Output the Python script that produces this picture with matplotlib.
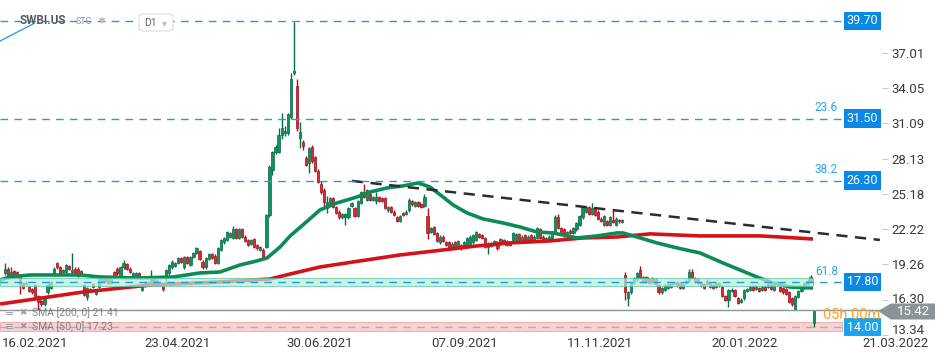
import numpy as np
import matplotlib
matplotlib.use('Agg')
import matplotlib.pyplot as plt
from matplotlib.patches import Polygon, FancyBboxPatch
from matplotlib.transforms import blended_transform_factory, ScaledTranslation

plt.rcParams['font.family'] = ['Roboto', 'DejaVu Sans']

# daily candles (bar index 0..266)
opens = [
    18.5, 18.9, 18.4, 18.7, 18.6, 18.2, 17.7, 17.6, 17.4, 17.2,
    17.5, 16.6, 16.2, 15.9, 16.9, 17.3, 18.4, 19.4, 19.0, 18.6,
    18.6, 19.1, 18.6, 18.9, 18.9, 18.7, 17.5, 16.5, 17.2, 17.6,
    16.8, 17.4, 17.8, 18.1, 18.0, 17.7, 18.6, 18.9, 18.2, 19.0,
    19.3, 18.9, 18.2, 18.3, 18.5, 17.1, 17.5, 17.8, 17.7, 18.1,
    17.9, 17.6, 17.5, 18.1, 18.5, 19.0, 19.1, 19.4, 19.8, 19.0,
    19.9, 19.2, 19.9, 20.2, 20.4, 19.5, 19.0, 19.7, 20.1, 20.0,
    19.4, 20.5, 21.1, 21.3, 21.6, 21.5, 22.2, 21.5, 22.2, 21.6,
    21.3, 21.0, 21.4, 20.9, 20.5, 20.5, 20.7, 23.4, 27.2, 28.7,
    28.7, 30.1, 30.3, 30.3, 31.6, 35.3, 34.2, 29.9, 29.5, 28.2,
    27.8, 29.1, 28.3, 27.1, 26.0, 25.5, 24.0, 24.4, 24.8, 24.1,
    23.7, 23.2, 23.2, 23.2, 24.2, 24.0, 23.3, 24.4, 25.3, 24.7,
    25.2, 24.7, 24.6, 24.9, 24.8, 24.8, 23.8, 24.1, 23.7, 23.2,
    22.9, 23.6, 23.5, 23.8, 24.6, 24.2, 24.5, 24.3, 24.2, 23.3,
    22.0, 22.4, 21.9, 21.1, 21.6, 21.1, 21.1, 20.7, 21.1, 20.7,
    20.9, 20.7, 20.9, 21.0, 21.1, 21.3, 21.8, 21.7, 21.5, 20.7,
    21.0, 20.9, 21.1, 21.0, 21.3, 20.9, 21.1, 21.3, 21.3, 21.8,
    21.3, 21.7, 21.3, 21.7, 21.3, 21.5, 22.2, 21.6, 21.3, 21.3,
    21.5, 22.0, 23.2, 22.3, 22.2, 21.7, 22.1, 21.9, 22.2, 22.6,
    23.2, 23.7, 24.1, 23.5, 24.0, 23.7, 23.1, 22.6, 22.9, 22.6,
    23.0, 22.6, 23.0, 22.8, 18.4, 16.4, 16.9, 17.7, 18.0, 18.8,
    17.8, 18.2, 18.0, 17.8, 18.0, 17.5, 16.9, 17.1, 17.3, 17.4,
    17.6, 17.8, 17.7, 17.3, 17.7, 17.9, 18.6, 18.1, 18.0, 17.7,
    17.6, 17.9, 17.4, 17.5, 17.4, 17.5, 17.4, 16.6, 16.3, 17.0,
    17.1, 16.4, 16.1, 16.4, 17.0, 17.1, 17.4, 17.2, 17.3, 17.1,
    17.4, 17.4, 17.5, 17.1, 17.6, 17.4, 17.3, 17.2, 16.9, 16.4,
    15.5, 16.5, 17.0, 17.3, 17.6, 18.2, 14.3]
closes = [
    18.9, 18.1, 18.6, 18.3, 18.4, 17.6, 17.3, 17.7, 17.0, 16.9,
    16.5, 16.1, 15.9, 16.5, 17.5, 17.8, 18.9, 19.0, 18.5, 18.8,
    19.2, 18.9, 18.8, 18.4, 18.3, 18.4, 16.7, 17.3, 17.0, 17.4,
    17.1, 18.0, 18.2, 17.9, 17.7, 18.0, 18.2, 18.5, 19.0, 19.4,
    18.9, 18.6, 18.5, 18.5, 18.2, 17.5, 17.8, 17.7, 18.1, 17.9,
    17.6, 17.7, 17.2, 18.8, 19.2, 19.5, 19.4, 19.8, 19.5, 19.9,
    19.4, 19.9, 20.2, 20.6, 19.7, 19.0, 19.8, 20.1, 19.8, 19.4,
    20.6, 21.3, 21.5, 22.0, 21.9, 22.2, 21.5, 22.2, 21.6, 21.2,
    20.9, 21.3, 20.7, 20.6, 20.7, 19.9, 23.4, 27.4, 28.7, 29.1,
    30.1, 30.7, 30.5, 31.9, 34.8, 35.5, 30.7, 30.4, 29.2, 27.6,
    29.0, 27.9, 27.1, 26.2, 25.3, 24.5, 24.5, 24.8, 24.1, 23.6,
    23.2, 23.5, 23.5, 24.0, 24.4, 23.3, 24.6, 25.3, 24.9, 25.5,
    24.7, 24.9, 24.9, 24.6, 24.6, 24.0, 24.1, 23.7, 23.4, 22.9,
    23.3, 23.4, 23.7, 24.7, 24.3, 24.5, 24.2, 24.1, 24.9, 21.9,
    22.3, 21.8, 21.2, 21.6, 21.2, 20.9, 20.7, 21.0, 20.7, 21.2,
    20.6, 21.1, 21.5, 21.6, 21.7, 22.0, 21.6, 21.5, 20.7, 21.0,
    20.8, 21.2, 20.6, 21.4, 21.1, 21.2, 20.9, 21.9, 21.8, 21.3,
    21.6, 21.3, 21.6, 21.3, 21.6, 22.3, 21.5, 21.3, 21.5, 21.6,
    22.0, 23.2, 22.3, 21.8, 21.7, 22.0, 21.9, 22.3, 22.7, 23.3,
    24.1, 24.1, 23.5, 24.0, 23.4, 23.1, 22.9, 23.3, 22.6, 23.2,
    22.8, 23.1, 22.9, 23.0, 16.9, 16.9, 17.7, 18.1, 18.5, 18.1,
    18.2, 17.8, 17.7, 18.1, 17.6, 16.9, 17.3, 17.5, 17.6, 17.8,
    17.8, 17.5, 17.3, 17.6, 17.9, 18.6, 18.1, 17.8, 17.7, 17.5,
    17.3, 17.6, 17.7, 17.3, 17.7, 17.7, 16.6, 16.3, 17.1, 17.1,
    16.6, 16.0, 16.3, 17.1, 17.2, 17.4, 17.1, 17.4, 17.0, 17.4,
    17.1, 17.6, 17.2, 17.6, 17.7, 17.0, 16.9, 16.8, 16.1, 15.9,
    16.6, 17.0, 17.3, 17.7, 17.9, 17.9, 15.42]
highs = [
    19.4, 19.0, 19.0, 18.8, 18.7, 18.4, 17.8, 17.9, 17.5, 17.3,
    17.6, 16.7, 16.3, 16.6, 17.6, 17.9, 19.0, 19.5, 19.1, 18.9,
    19.3, 19.2, 20.2, 19.0, 19.0, 18.8, 17.6, 17.4, 17.3, 17.7,
    17.2, 18.1, 18.3, 18.2, 18.1, 18.1, 18.7, 19.0, 19.1, 19.6,
    19.4, 19.0, 18.6, 18.6, 18.6, 17.6, 17.9, 17.9, 18.8, 18.2,
    18.0, 17.8, 17.6, 18.9, 19.3, 19.6, 19.5, 19.9, 19.9, 20.0,
    20.0, 20.0, 20.3, 20.7, 20.5, 19.6, 19.9, 20.2, 20.2, 20.1,
    20.7, 21.4, 21.6, 22.1, 22.0, 22.5, 22.3, 22.3, 22.3, 21.7,
    21.4, 21.4, 21.5, 21.0, 20.8, 20.6, 23.5, 27.6, 28.8, 29.3,
    30.7, 32.0, 30.9, 32.0, 35.3, 39.65, 34.8, 31.2, 29.7, 28.4,
    29.1, 29.3, 28.4, 27.3, 26.3, 25.7, 25.0, 24.9, 24.9, 24.2,
    23.8, 23.6, 23.6, 24.1, 24.5, 24.1, 24.7, 25.4, 26.0, 25.6,
    25.3, 25.0, 25.3, 25.0, 24.9, 24.9, 24.2, 24.2, 23.8, 23.3,
    23.4, 23.7, 23.8, 24.8, 24.7, 24.6, 24.6, 24.4, 25.2, 24.0,
    22.4, 22.5, 22.0, 21.7, 21.7, 21.2, 21.2, 21.1, 21.2, 21.3,
    21.0, 21.2, 21.6, 21.7, 21.8, 22.1, 21.9, 21.8, 21.6, 21.1,
    21.1, 21.3, 21.2, 21.5, 21.4, 21.3, 21.2, 22.0, 21.9, 21.9,
    21.7, 21.8, 21.7, 21.8, 21.7, 22.4, 22.3, 21.7, 21.6, 21.7,
    22.1, 23.4, 23.5, 22.4, 22.3, 22.1, 22.2, 22.4, 22.8, 23.4,
    24.2, 24.2, 24.2, 24.4, 24.1, 23.8, 23.2, 23.4, 23.0, 23.3,
    23.8, 23.2, 23.1, 23.1, 18.6, 17.0, 17.8, 18.2, 18.6, 19.1,
    18.3, 18.3, 18.1, 18.2, 18.1, 17.6, 17.4, 17.6, 17.7, 17.9,
    17.9, 17.9, 17.8, 17.7, 18.0, 18.9, 18.9, 18.2, 18.1, 17.8,
    17.7, 18.0, 17.8, 17.6, 17.8, 17.8, 17.5, 16.7, 17.2, 17.3,
    17.2, 16.5, 16.4, 17.2, 17.3, 17.5, 17.5, 17.5, 17.4, 17.5,
    17.5, 17.7, 17.6, 17.7, 17.9, 17.5, 17.4, 17.3, 17.0, 16.5,
    16.7, 17.1, 17.4, 17.8, 18.0, 18.4, 15.45]
lows = [
    18.4, 18.0, 18.3, 18.2, 18.2, 16.8, 17.2, 17.5, 16.9, 16.8,
    16.4, 15.4, 15.8, 15.8, 16.8, 17.2, 18.3, 18.9, 18.4, 18.5,
    18.5, 18.8, 18.4, 18.3, 18.2, 18.3, 16.6, 16.3, 16.9, 17.3,
    16.7, 17.3, 17.7, 17.8, 17.6, 17.6, 18.1, 18.4, 18.1, 18.9,
    18.8, 18.5, 18.1, 18.2, 18.1, 17.0, 17.4, 17.6, 17.6, 17.8,
    17.5, 17.5, 17.0, 17.9, 18.4, 18.9, 19.0, 19.3, 19.4, 18.9,
    19.3, 19.1, 19.8, 20.1, 19.6, 18.9, 18.9, 19.6, 19.7, 19.3,
    19.3, 20.4, 21.0, 21.2, 21.5, 21.4, 21.4, 21.4, 21.5, 21.1,
    20.8, 20.9, 20.6, 20.5, 20.4, 19.8, 20.6, 23.2, 26.8, 28.5,
    28.6, 29.8, 30.0, 30.1, 31.5, 35.2, 30.5, 29.0, 28.9, 27.5,
    26.9, 27.8, 27.0, 26.1, 25.2, 24.2, 23.6, 24.3, 24.0, 23.5,
    23.1, 23.1, 22.6, 23.1, 24.1, 23.2, 23.2, 24.3, 24.8, 24.6,
    24.6, 24.6, 24.3, 24.5, 24.5, 23.9, 23.7, 23.6, 23.3, 22.8,
    22.8, 23.3, 23.4, 23.7, 24.2, 24.1, 24.1, 24.0, 24.1, 21.4,
    21.9, 21.7, 21.1, 21.0, 21.1, 20.8, 20.6, 20.6, 20.6, 20.6,
    20.5, 20.6, 20.8, 20.9, 21.0, 21.2, 21.5, 21.4, 20.6, 20.1,
    20.7, 20.8, 20.5, 20.9, 21.0, 20.8, 20.8, 21.2, 21.2, 21.2,
    21.2, 21.2, 21.2, 21.2, 21.2, 21.4, 21.4, 21.2, 21.2, 21.2,
    21.4, 21.9, 22.2, 21.7, 21.6, 21.6, 21.8, 21.8, 22.1, 22.5,
    23.1, 23.6, 23.4, 23.4, 23.3, 23.0, 22.8, 22.5, 22.5, 22.5,
    22.7, 22.5, 22.7, 22.7, 16.3, 15.8, 16.8, 17.6, 17.9, 18.0,
    17.7, 17.7, 17.6, 17.7, 17.5, 16.8, 16.8, 17.0, 17.2, 17.3,
    17.5, 17.4, 17.2, 17.2, 17.6, 17.8, 18.0, 17.7, 17.6, 17.4,
    17.2, 17.5, 17.3, 17.2, 17.3, 17.4, 16.5, 16.2, 15.7, 16.9,
    16.5, 15.9, 16.0, 16.3, 16.9, 17.0, 17.0, 17.1, 16.9, 17.0,
    17.0, 17.3, 17.1, 17.0, 17.5, 16.9, 16.8, 16.7, 16.0, 15.8,
    15.4, 16.4, 16.9, 17.2, 17.5, 17.8, 14.0]

# moving averages (bar position, value)
sma50_x = [-1.6, 1.6, 8.2, 24.7, 31.3, 44.4, 55.3, 64.1, 70.7, 77.3, 82.9, 86.2,
           90.5, 93.8, 98.0, 103.6, 109.2, 115.8, 120.1, 125.7, 130.9, 135.9,
           139.8, 144.1, 147.4, 152.0, 157.2, 163.8, 169.4, 175.0, 180.3, 188.2,
           194.7, 201.3, 203.3, 207.9, 214.5, 221.1, 228.6, 236.2, 241.8, 247.4,
           252.6, 258.2, 265.8]
sma50_y = [17.95, 18.20, 18.37, 18.37, 18.20, 18.12, 18.20, 18.54, 18.62, 19.21,
           19.55, 19.80, 20.72, 21.65, 22.57, 23.83, 24.42, 24.92, 25.34, 25.68,
           25.85, 26.10, 25.76, 24.92, 24.25, 23.58, 23.08, 22.74, 22.40, 21.98,
           21.90, 21.48, 21.65, 21.90, 21.90, 21.56, 21.06, 20.64, 20.22, 19.38,
           18.79, 18.20, 17.70, 17.36, 17.28]
sma200_x = [-1.6, 25.7, 47.7, 70.7, 87.2, 93.8, 103.6, 116.8, 129.9, 144.1, 155.3,
            166.1, 179.3, 190.1, 201.3, 212.2, 228.6, 248.4, 254.9, 265.8]
sma200_y = [15.93, 16.94, 17.53, 17.78, 18.03, 18.45, 19.04, 19.55, 20.05, 20.47,
            20.81, 21.06, 21.23, 21.48, 21.56, 21.82, 21.65, 21.65, 21.56, 21.39]

trend_x = [114.1, 287.8]
trend_y = [26.27, 21.31]

levels = [39.70, 31.50, 26.30, 17.80, 14.00]
fib_labels = {31.50: '23.6', 26.30: '38.2', 17.80: '61.8'}
last_price = 15.42

yticks = [37.01, 34.05, 31.09, 28.13, 25.18, 22.22, 19.26, 16.30, 13.34]
date_pos = [9.9, 56.9, 103.6, 151.3, 195.7, 243.4, 292.8]
date_labels = ['16.02.2021', '23.04.2021', '30.06.2021', '07.09.2021',
               '11.11.2021', '20.01.2022', '21.03.2022']

W, H = 950, 360


def fx(px):
    return px / W


def fy(py):
    return 1 - py / H


fig = plt.figure(figsize=(9.5, 3.6), dpi=100)
ax = fig.add_axes([0, 25 / H, 882 / W, 335 / H])
ax.set_xlim(-1.64, 288.5)
ax.set_ylim(13.33, 41.46)
for s in ax.spines.values():
    s.set_visible(False)

o = np.array(opens)
c = np.array(closes)
hi = np.array(highs)
lo = np.array(lows)
x = np.arange(len(c))
up = c >= o
g_fill, g_edge = '#12925f', '#0b6b45'
r_fill, r_edge = '#d82a35', '#a3101c'

ax.vlines(x, lo, hi, colors=np.where(up, g_edge, r_edge), lw=1, zorder=2)
body = np.maximum(np.abs(c - o), 0.06)
ax.bar(x, body, bottom=np.minimum(o, c), width=0.72,
       color=np.where(up, g_fill, r_fill), edgecolor=np.where(up, g_edge, r_edge),
       lw=0.5, zorder=3)

ax.plot(sma200_x, sma200_y, color='#d4121a', lw=2.6, zorder=4, solid_capstyle='butt')
ax.plot(sma50_x, sma50_y, color='#0c8a58', lw=2.6, zorder=4, solid_capstyle='butt')
ax.plot(trend_x, trend_y, color='#2a2d30', lw=1.8, dashes=(4.5, 3), zorder=5)

# zones
ax.axhspan(17.45, 18.15, xmin=0, xmax=813 / 882, fc='#b9ecdc', alpha=0.72,
           ec='#55c9a2', lw=0.8, zorder=6)
ax.axhspan(13.66, 14.42, xmin=0, xmax=842 / 882, fc='#f8cccc', alpha=0.85,
           ec='#f2a6a6', lw=0.8, zorder=1)

for v in levels:
    col = '#8fb2de' if v == 14.00 else '#1f9ae6'
    ax.axhline(v, xmin=0, xmax=845 / 882, color=col, lw=1, dashes=(5.5, 4.5), zorder=7)
ax.axhline(last_price, color='#8b9497', lw=1, zorder=7)

ax.set_xticks([])
ax.yaxis.tick_right()
ax.set_yticks(yticks)
ax.set_yticklabels([f'{t:.2f}' for t in yticks])
ax.tick_params(axis='y', length=4, width=0.8, color='#c9c9c9', labelsize=9.5,
               labelcolor='#3a3a3a', pad=3)
# the two lowest price labels sit a little higher, as in the source
ylabs = ax.get_yticklabels()
for lab, shift in [(ylabs[-1], 6), (ylabs[-2], 2)]:
    lab.set_transform(lab.get_transform() + ScaledTranslation(0, shift / 100, fig.dpi_scale_trans))

trans = blended_transform_factory(ax.transData, ax.transAxes)
for p, lab in zip(date_pos, date_labels):
    ax.text(p, -0.024, lab, transform=trans, ha='center', va='center',
            fontsize=9.5, color='#3a3a3a')

# level labels on the right
ltrans = blended_transform_factory(ax.transAxes, ax.transData)
for v in levels:
    fc = '#1ba3ec' if v == 14.00 else '#0a88e6'
    ax.text(862.5 / 882, v, f'{v:.2f}', transform=ltrans, ha='center', va='center',
            fontsize=9, color='white', zorder=9,
            bbox=dict(boxstyle='square,pad=0.22', fc=fc, ec='none'))
for v, lab in fib_labels.items():
    ax.text(838 / 882, v + 0.35, lab, transform=ltrans, ha='right', va='bottom',
            fontsize=8.5, color='#2aa2ea', zorder=9)

# last price marker
pts = [(878, 311), (891, 303.5), (935, 303.5), (935, 319.5), (891, 319.5)]
fig.patches.append(Polygon([(fx(a), fy(b)) for a, b in pts], closed=True,
                           transform=fig.transFigure, fc='#8a9497', ec='none'))
fig.text(fx(914), fy(311.5), f'{last_price:.2f}', ha='center', va='center',
         fontsize=9.5, color='white')
fig.text(fx(823), fy(315), '05h 00m', ha='left', va='center', fontsize=10.5,
         color='#ffa126')

# header
fig.lines.append(plt.Line2D([fx(0), fx(33)], [fy(41), fy(24)], transform=fig.transFigure,
                            color='#2aa2ea', lw=1))
fig.text(fx(20), fy(21), 'SWBI.US', ha='left', va='center', fontsize=8.5,
         fontweight='bold', color='#555a5e')
fig.text(fx(76), fy(22), 'STC', ha='left', va='center', fontsize=6.5, color='#8b9aa6')
fig.text(fx(99), fy(21), '▼', ha='left', va='center', fontsize=6, color='#bfbfbf')
fig.patches.append(FancyBboxPatch((fx(139), fy(31)), fx(34), 17 / H,
                                  boxstyle='round,pad=0,rounding_size=0.006',
                                  transform=fig.transFigure, fc='white', ec='#dcdcdc',
                                  lw=0.8))
fig.text(fx(144), fy(23), 'D1', ha='left', va='center', fontsize=7.5, color='#666')
fig.text(fx(162), fy(23), '▾', ha='left', va='center', fontsize=7, color='#bbbbbb')

# indicator legend
for yy, lab in [(313, 'SMA [200, 0] 21.41'), (327, 'SMA [50, 0] 17.23')]:
    fig.text(fx(5), fy(yy), '≡', ha='left', va='center', fontsize=8, color='#9a9a9a')
    fig.text(fx(19), fy(yy), '✖', ha='left', va='center', fontsize=6.5, color='#9a9a9a')
    fig.text(fx(32), fy(yy), lab, ha='left', va='center', fontsize=7.5,
             color='#6f6f6f', alpha=0.85)

fig.savefig('out.png', dpi=100)
